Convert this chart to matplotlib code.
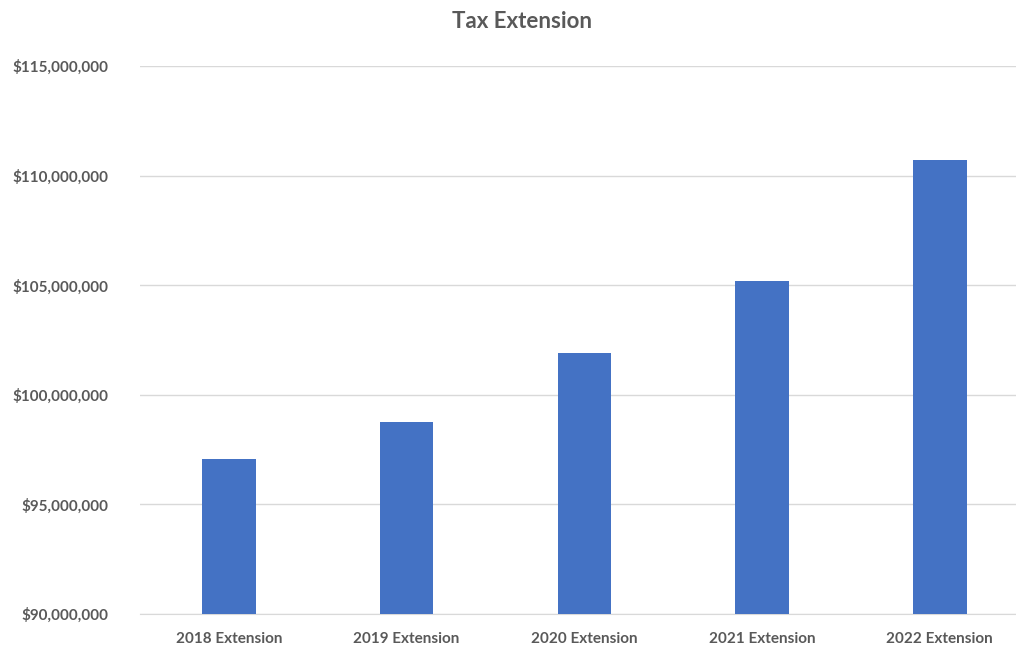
import matplotlib
matplotlib.use("Agg")
import matplotlib.pyplot as plt
from matplotlib.ticker import FuncFormatter

categories = ["2018 Extension", "2019 Extension", "2020 Extension",
              "2021 Extension", "2022 Extension"]
values = [97_060_000, 98_780_000, 101_900_000, 105_200_000, 110_700_000]
y_ticks = [90_000_000, 95_000_000, 100_000_000, 105_000_000,
           110_000_000, 115_000_000]

plt.rcParams['font.family'] = ['Lato', 'DejaVu Sans']
text_col = '#595959'

fig = plt.figure(figsize=(10.16, 6.5), dpi=100)
ax = fig.add_axes([140 / 1016, 36 / 650, 876 / 1016, 548 / 650])

x = list(range(len(categories)))
ax.bar(x, values, width=0.30, color='#4472C4', zorder=3)

ax.set_ylim(90_000_000, 115_000_000)
ax.set_xlim(-0.5, -0.5 + 876 / 177.75)
ax.set_yticks(y_ticks)
ax.yaxis.set_major_formatter(FuncFormatter(lambda v, p: f"${v:,.0f}"))
ax.set_xticks(x)
ax.set_xticklabels(categories)

ax.grid(axis='y', color='#D9D9D9', linewidth=1, zorder=0)
for s in ['top', 'right', 'left']:
    ax.spines[s].set_visible(False)
ax.spines['bottom'].set_color('#D9D9D9')
ax.tick_params(axis='both', length=0, colors=text_col, labelsize=11)
ax.tick_params(axis='y', pad=23)
ax.tick_params(axis='x', pad=13)
for lbl in ax.get_xticklabels() + ax.get_yticklabels():
    lbl.set_fontweight('bold')

fig.text(522 / 1016, 1 - 22 / 650, "Tax Extension", ha='center', va='center',
         fontsize=16, fontweight='bold', color=text_col)

fig.savefig("out.png", dpi=100)
